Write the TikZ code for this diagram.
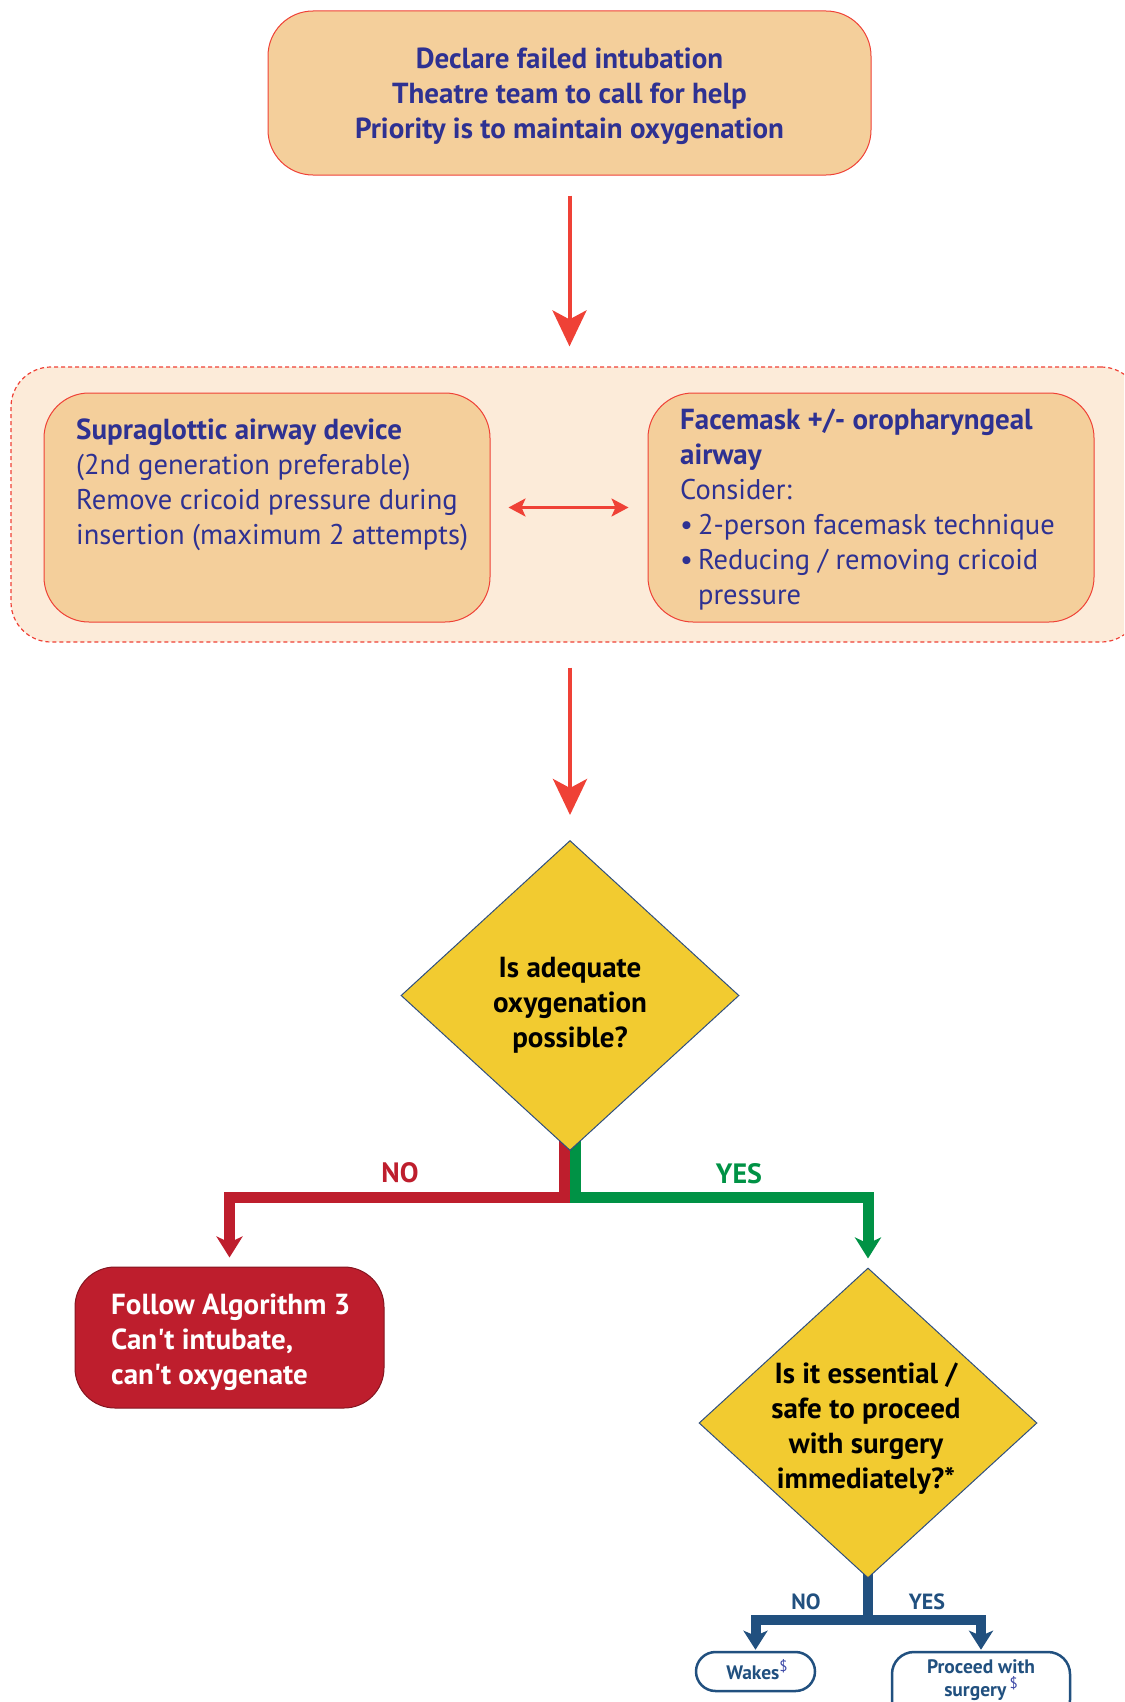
\documentclass[tikz,border=0pt]{standalone}
\usepackage{fontspec}
\setmainfont{PT Sans}[Ligatures=TeXOff]
\usetikzlibrary{shapes.geometric,arrows.meta}
\pgfdeclarelayer{background}
\pgfsetlayers{background,main}
\definecolor{txtblue}{HTML}{2E3192}
\definecolor{peach}{HTML}{F4CF9B}
\definecolor{cream}{HTML}{FCEBD9}
\definecolor{arrred}{HTML}{EF4136}
\definecolor{ygold}{HTML}{F2CB30}
\definecolor{dred}{HTML}{BE1E2D}
\definecolor{dgreen}{HTML}{009245}
\definecolor{nblue}{HTML}{21507F}
\definecolor{dollar}{HTML}{3F4BA8}
\definecolor{dborder}{HTML}{2F4F7F}
\newcommand{\bul}{\textbullet\hspace{5pt}}
\begin{document}
\begin{tikzpicture}[x=1pt,y=-1pt,
  peachbox/.style={draw=arrred, line width=1pt, fill=peach, rounded corners=45pt, inner sep=0pt},
  bigtxt/.style={font=\fontsize{28.5}{35}\selectfont, inner sep=0pt},
  bigbold/.style={font=\fontsize{29}{35}\selectfont\bfseries, inner sep=0pt},
  decision/.style={diamond, draw=dborder, line width=1pt, fill=ygold, inner sep=0pt, minimum width=338pt, minimum height=310pt},
  flowarrow/.style={draw=arrred, line width=4pt, -{Stealth[length=36pt,width=34pt,inset=9pt]}},
  branch/.style={line width=11pt, line join=miter, -{Stealth[length=21pt,width=26pt,inset=6pt]}},
  smallbranch/.style={line width=10pt, draw=nblue, line join=miter, -{Stealth[length=19pt,width=24pt,inset=5pt]}},
  pill/.style={draw=nblue, line width=2.5pt, fill=white, inner sep=0pt},
  smalltxt/.style={font=\fontsize{19.5}{23}\selectfont\bfseries, text=nblue, inner sep=0pt, align=center}
]
\useasboundingbox (0,0) rectangle (1124,1702);
\clip (0,0) rectangle (1124,1702);

% top box
\node[peachbox, minimum width=603pt, minimum height=164pt] (top) at (569.5,93) {};
\node[bigbold, text=txtblue, align=center] (toptxt) at (569.5,96)
  {Declare failed intubation\\Theatre team to call for help\\Priority is to maintain oxygenation};

% group box
\node[draw=arrred, dash pattern=on 4pt off 3pt, line width=1.2pt, fill=cream, rounded corners=40pt,
      minimum width=1130pt, minimum height=275pt, inner sep=0pt] (group) at (576,504.5) {};

\node[peachbox, minimum width=446pt, minimum height=229pt] (sga) at (267,507.5) {};
\node[peachbox, minimum width=446pt, minimum height=229pt] (fm) at (871,507.5) {};

\node[bigtxt, text=txtblue, align=left, anchor=base west] (sgatxt) at (76,544)
  {{\fontsize{29}{35}\selectfont\bfseries Supraglottic airway device}\\(2nd generation preferable)\\Remove cricoid pressure during\\insertion (maximum 2 attempts)};
\node[bigtxt, text=txtblue, align=left, anchor=base west] (fmtxt) at (680,604)
  {{\fontsize{29}{35}\selectfont\bfseries Facemask +/- oropharyngeal}\\{\fontsize{29}{35}\selectfont\bfseries airway}\\Consider:\\\bul 2-person facemask technique\\\bul Reducing / removing cricoid\\\hphantom{\bul}pressure};

\draw[draw=arrred, line width=2.5pt, {Stealth[length=17pt,width=18pt,inset=4pt]}-{Stealth[length=17pt,width=18pt,inset=4pt]},
      shorten <=18pt, shorten >=19pt] (sga.east) -- (fm.west);

% arrows
\draw[flowarrow, shorten <=20pt, shorten >=20pt] (top.south) -- (top.south |- group.north);

% diamond 1
\node[decision] (d1) at (570,995.5) {};
\node[bigbold, align=center] (d1txt) at (570,1005)
  {Is adequate\\oxygenation\\possible?};
\draw[flowarrow, shorten <=25pt, shorten >=25pt] (d1.north |- group.south) -- (d1.north);

% failure box
\node[draw=dred!70!black, line width=1pt, fill=dred, rounded corners=40pt, minimum width=309pt,
      minimum height=141pt, inner sep=0pt] (fail) at (229.5,1337.5) {};
\node[bigbold, text=white, align=left, anchor=base west] (failtxt) at (111,1384)
  {Follow Algorithm 3\\Can't intubate,\\can't oxygenate};

% diamond 2
\node[decision] (d2) at (868,1423) {};
\node[bigbold, align=center] (d2txt) at (866,1429)
  {Is it essential /\\safe to proceed\\with surgery\\immediately?*};

% branches from d1
\coordinate (nbar) at (229.5,1197);
\coordinate (ybar) at (868,1197);
\begin{pgfonlayer}{background}
\draw[branch, draw=dred, shorten >=9pt] ([shift={(-5.5pt,12pt)}]d1.south) |- (nbar) -- (fail.north);
\draw[branch, draw=dgreen, shorten >=9pt] ([shift={(5.5pt,12pt)}]d1.south) |- (ybar) -- (d2.north);
\end{pgfonlayer}
\node[font=\fontsize{28}{30}\selectfont\bfseries, text=dred, inner sep=0pt] (nolab) at (400,1173) {NO};
\node[font=\fontsize{28}{30}\selectfont\bfseries, text=dgreen, inner sep=0pt] (yeslab) at (739,1174) {YES};

% end boxes
\node[pill, rounded corners=19.5pt, minimum width=119pt, minimum height=39pt] (wakes) at (755.5,1671.5) {};
\node[smalltxt] (wakestxt) at (757,1670) {Wakes\raisebox{8pt}{\fontsize{15}{15}\selectfont\mdseries\color{dollar}\$}};
\node[pill, rounded corners=22pt, minimum width=178pt, minimum height=70pt] (proc) at (981,1687) {};
\node[smalltxt] (proctxt) at (981,1680) {Proceed with\\surgery\,\raisebox{8pt}{\fontsize{15}{15}\selectfont\mdseries\color{dollar}\$}};

\coordinate (wbar) at (755.5,1620);
\coordinate (pbar) at (981,1620);
\begin{pgfonlayer}{background}
\draw[smallbranch, shorten >=1pt] ([yshift=10pt]d2.south) |- (wbar) -- (wakes.north);
\draw[smallbranch, shorten >=1pt] ([yshift=10pt]d2.south) |- (pbar) -- (proc.north);
\end{pgfonlayer}
\node[smalltxt, font=\fontsize{22}{24}\selectfont\bfseries] (nolab2) at (806,1602) {NO};
\node[smalltxt, font=\fontsize{22}{24}\selectfont\bfseries] (yeslab2) at (927,1602) {YES};
\end{tikzpicture}
\end{document}
